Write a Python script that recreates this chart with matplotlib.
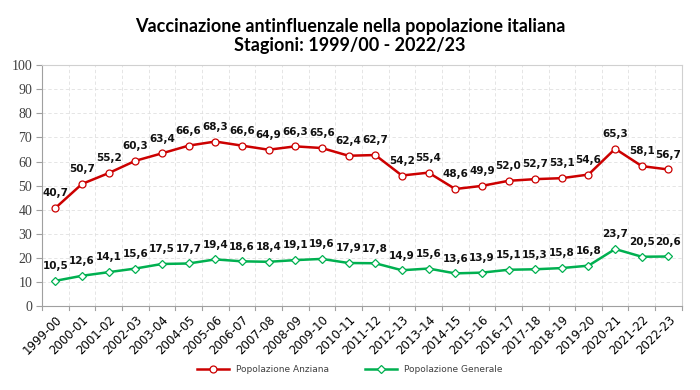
import matplotlib
matplotlib.use("Agg")
import matplotlib.pyplot as plt

seasons = ["1999-00", "2000-01", "2001-02", "2002-03", "2003-04", "2004-05",
           "2005-06", "2006-07", "2007-08", "2008-09", "2009-10", "2010-11",
           "2011-12", "2012-13", "2013-14", "2014-15", "2015-16", "2016-17",
           "2017-18", "2018-19", "2019-20", "2020-21", "2021-22", "2022-23"]
anziana = [40.7, 50.7, 55.2, 60.3, 63.4, 66.6, 68.3, 66.6, 64.9, 66.3, 65.6, 62.4,
           62.7, 54.2, 55.4, 48.6, 49.9, 52.0, 52.7, 53.1, 54.6, 65.3, 58.1, 56.7]
generale = [10.5, 12.6, 14.1, 15.6, 17.5, 17.7, 19.4, 18.6, 18.4, 19.1, 19.6, 17.9,
            17.8, 14.9, 15.6, 13.6, 13.9, 15.1, 15.3, 15.8, 16.8, 23.7, 20.5, 20.6]

red = "#CC0000"
green = "#00B050"

fig = plt.figure(figsize=(7, 3.9), dpi=100)
ax = fig.add_axes([0.06, 0.215, 0.914, 0.618])

x = list(range(len(seasons)))
ax.plot(x, anziana, color=red, lw=1.8, marker="o", ms=5, mfc="white", mec=red,
        mew=0.9, label="Popolazione Anziana", zorder=3)
ax.plot(x, generale, color=green, lw=1.8, marker="D", ms=4.5, mfc="white", mec=green,
        mew=0.9, label="Popolazione Generale", zorder=3)

# data labels above points
for series in (anziana, generale):
    for xi, v in zip(x, series):
        ax.annotate(f"{v:.1f}".replace(".", ","), (xi, v), xytext=(0, 7),
                    textcoords="offset points", ha="center", va="bottom",
                    fontsize=7.5, fontweight="semibold", color="#111111")

ax.set_xlim(-0.5, len(seasons) - 0.5)
ax.set_ylim(0, 100)
ax.set_yticks(range(0, 101, 10))
ax.set_yticklabels([str(t) for t in range(0, 101, 10)], family="Liberation Serif",
                   fontsize=10, color="#404040")
ax.set_xticks(x)
ax.set_xticklabels(seasons, rotation=45, ha="right", rotation_mode="anchor",
                   fontsize=8.5, family="DejaVu Sans")
ax.tick_params(axis="x", length=0, pad=5)
ax.tick_params(axis="y", length=4, color="#A0A0A0", pad=3)

# grid: horizontal at each 10, vertical between categories
for yv in range(10, 100, 10):
    ax.axhline(yv, color="#E0E0E0", lw=0.6, ls=(0, (4, 3)), zorder=0)
for b in x[1:]:
    ax.axvline(b - 0.5, color="#E0E0E0", lw=0.6, ls=(0, (4, 3)), zorder=0)
# small tick marks on the x axis at category boundaries
for b in range(len(seasons) + 1):
    ax.plot([b - 0.5, b - 0.5], [0, -1.8], color="#A0A0A0", lw=0.8, clip_on=False)

for side in ["left", "bottom"]:
    ax.spines[side].set_color("#A0A0A0")
for side in ["top", "right"]:
    ax.spines[side].set_color("#D0D0D0")

fig.text(0.5, 0.955, "Vaccinazione antinfluenzale nella popolazione italiana\nStagioni: 1999/00 - 2022/23",
         ha="center", va="top", fontsize=13, fontweight="bold", family="Lato",
         linespacing=1.2)

fig.legend(loc="lower center", bbox_to_anchor=(0.5, 0.02), ncol=2, frameon=False,
           fontsize=6.5, handlelength=3.5, columnspacing=4, labelcolor="#404040")

fig.savefig("out.png", dpi=100)
